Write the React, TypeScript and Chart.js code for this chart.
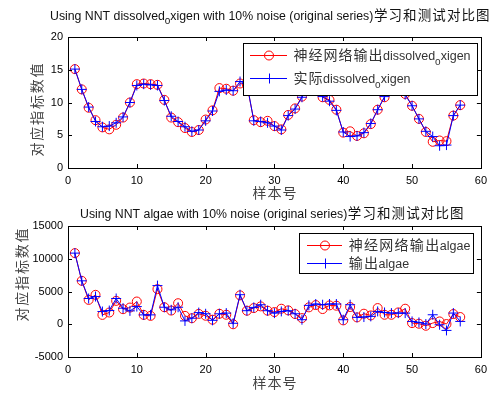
import React, { useEffect, useRef } from 'react';
import { Chart, registerables } from 'chart.js';
Chart.register(...registerables);

// ---------- data ----------
const sampleNo = [
  1, 2, 3, 4, 5, 6, 7, 8, 9, 10, 11, 12, 13, 14, 15, 16, 17, 18, 19, 20,
  21, 22, 23, 24, 25, 26, 27, 28, 29, 30, 31, 32, 33, 34, 35, 36, 37, 38, 39, 40,
  41, 42, 43, 44, 45, 46, 47, 48, 49, 50, 51, 52, 53, 54, 55, 56, 57,
];

const doNetOutput = [
  15.1, 12.0, 9.2, 7.3, 6.2, 5.9, 6.6, 7.7, 10.0, 12.8,
  12.9, 12.8, 12.7, 10.4, 7.7, 7.0, 6.1, 5.5, 5.8, 7.4,
  8.8, 12.2, 12.1, 11.8, 12.9, 12.7, 7.3, 7.0, 7.2, 6.4,
  5.9, 8.1, 9.1, 10.9, 12.5, 12.3, 10.8, 10.4, 8.9, 5.4,
  5.6, 4.9, 5.3, 6.7, 8.9, 10.8, 12.6, 12.4, 11.3, 9.5,
  7.5, 5.5, 4.0, 4.2, 4.1, 8.0, 9.6,
];
const doActual = [
  15.1, 12.0, 9.3, 7.1, 6.3, 6.4, 6.9, 7.8, 10.0, 12.6,
  12.8, 12.7, 12.6, 10.3, 7.9, 7.1, 6.3, 5.6, 5.8, 7.2,
  8.7, 11.7, 11.9, 11.8, 13.2, 12.9, 7.2, 7.1, 6.9, 6.4,
  5.8, 8.0, 9.0, 10.8, 12.6, 12.2, 10.9, 10.2, 8.8, 5.5,
  4.8, 4.9, 5.4, 6.8, 8.9, 10.9, 12.5, 12.4, 11.2, 9.5,
  7.5, 5.6, 4.8, 3.4, 3.5, 8.0, 9.6,
];

const algaeNetOutput = [
  10860, 6630, 3720, 4490, 1430, 1790, 3570, 2300, 2550, 3470,
  1430, 1280, 5360, 2600, 2090, 3210, 1280, 920, 1580, 1300,
  690, 1600, 1450, 0, 4410, 2070, 2470, 2730, 2070, 1860,
  2370, 2120, 1560, 940, 2580, 2930, 2320, 2880, 2830, 590,
  2630, 1050, 1610, 1350, 2470, 1450, 1450, 1810, 2370, 180,
  80, -230, 180, 430, 30, 1560, 1100,
];
const algaeActual = [
  10860, 6630, 3930, 4230, 1940, 2090, 3930, 2450, 2040, 2700,
  1430, 1430, 5900, 2600, 2200, 2600, 510, 920, 1780, 1600,
  600, 1600, 1700, 150, 4510, 2070, 2570, 2980, 2070, 1700,
  1960, 2070, 1600, 690, 2880, 3090, 2980, 3090, 3090, 690,
  2980, 1050, 1100, 1200, 1960, 1800, 1700, 1700, 1700, 430,
  280, 30, 1450, -80, -940, 1710, 430,
];

const xTicks = { min: 0, max: 60, step: 10 };
const doTicks = { min: 0, max: 20, step: 5 };
const algaeTicks = { min: -5000, max: 15000, step: 5000 };

// ---------- drawing helpers ----------
const LAT = '"Liberation Sans", Arial, sans-serif';
const CJK = '"Noto Sans CJK SC", "Noto Sans CJK JP", sans-serif';

type Seg = { t: string; size: number; cjk?: boolean; dy?: number; adv?: number };

function segW(ctx: CanvasRenderingContext2D, s: Seg) {
  if (s.adv) return s.t.length * s.adv;
  ctx.font = `${s.size}px ${s.cjk ? CJK : LAT}`;
  return ctx.measureText(s.t).width;
}

// y is the visual middle line of the text row; text drawn on a shared alphabetic baseline
function drawSegs(
  ctx: CanvasRenderingContext2D,
  segs: Seg[],
  x: number,
  y: number,
  align: 'left' | 'center',
  color: string
) {
  const total = segs.reduce((a, s) => a + segW(ctx, s), 0);
  let cx = align === 'center' ? x - total / 2 : x;
  const base = y + 4.5;
  ctx.fillStyle = color;
  ctx.textBaseline = 'alphabetic';
  for (const s of segs) {
    ctx.font = `${s.size}px ${s.cjk ? CJK : LAT}`;
    const yy = base + (s.dy || 0);
    if (s.adv) {
      ctx.textAlign = 'center';
      for (const ch of s.t) {
        ctx.fillText(ch, cx + s.adv / 2, yy);
        cx += s.adv;
      }
    } else {
      ctx.textAlign = 'left';
      ctx.fillText(s.t, cx, yy);
      cx += ctx.measureText(s.t).width;
    }
  }
}

type LegendItem = { color: string; mark: 'circle' | 'cross'; segs: Seg[] };
type Cfg = {
  title: Seg[];
  titleX: number;
  titleY: number;
  yTitle: string;
  yTitleX: number;
  yTitleY: number;
  xTitleY: number;
  legend: { x1: number; y1: number; x2: number; y2: number; l1: number; l2: number; m: number; tx: number; rows: number[]; items: LegendItem[] };
};

function makePlugin(cfg: Cfg) {
  return {
    id: 'matlabDeco',
    afterDraw(chart: any) {
      const ctx: CanvasRenderingContext2D = chart.ctx;
      const a = chart.chartArea;
      const xs = chart.scales.x;
      const ys = chart.scales.y;
      ctx.save();
      // box
      ctx.strokeStyle = '#000';
      ctx.lineWidth = 1;
      ctx.strokeRect(Math.round(a.left) + 0.5, Math.round(a.top) + 0.5, Math.round(a.right - a.left), Math.round(a.bottom - a.top));
      // inward ticks
      const tl = 4;
      ctx.beginPath();
      for (const t of xs.ticks) {
        const px = Math.round(xs.getPixelForValue(t.value)) + 0.5;
        ctx.moveTo(px, a.bottom);
        ctx.lineTo(px, a.bottom - tl);
        ctx.moveTo(px, a.top);
        ctx.lineTo(px, a.top + tl);
      }
      for (const t of ys.ticks) {
        const py = Math.round(ys.getPixelForValue(t.value)) + 0.5;
        ctx.moveTo(a.left, py);
        ctx.lineTo(a.left + tl, py);
        ctx.moveTo(a.right, py);
        ctx.lineTo(a.right - tl, py);
      }
      ctx.stroke();

      // title
      drawSegs(ctx, cfg.title, cfg.titleX, cfg.titleY, 'left', '#111');
      // x title
      drawSegs(ctx, [{ t: '样本号', size: 14, cjk: true, adv: 15 }], (a.left + a.right) / 2, cfg.xTitleY, 'center', '#444');
      // y title
      ctx.save();
      ctx.translate(cfg.yTitleX, cfg.yTitleY);
      ctx.rotate(-Math.PI / 2);
      drawSegs(ctx, [{ t: cfg.yTitle, size: 14, cjk: true, adv: 15.8 }], 0, 0, 'center', '#444');
      ctx.restore();

      // legend
      const L = cfg.legend;
      ctx.fillStyle = '#fff';
      ctx.fillRect(L.x1, L.y1, L.x2 - L.x1, L.y2 - L.y1);
      ctx.strokeStyle = '#000';
      ctx.lineWidth = 1;
      ctx.strokeRect(L.x1 + 0.5, L.y1 + 0.5, L.x2 - L.x1, L.y2 - L.y1);
      L.items.forEach((it, i) => {
        const ry = L.rows[i] + 0.5;
        ctx.strokeStyle = it.color;
        ctx.lineWidth = 1;
        ctx.beginPath();
        ctx.moveTo(L.l1, ry);
        ctx.lineTo(L.l2, ry);
        ctx.stroke();
        ctx.beginPath();
        if (it.mark === 'circle') {
          ctx.arc(L.m, ry, 4.5, 0, Math.PI * 2);
        } else {
          ctx.moveTo(L.m - 5, ry);
          ctx.lineTo(L.m + 5, ry);
          ctx.moveTo(L.m + 0.5, ry - 5);
          ctx.lineTo(L.m + 0.5, ry + 5);
        }
        ctx.stroke();
        drawSegs(ctx, it.segs, L.tx, L.rows[i], 'left', '#333');
      });
      ctx.restore();
    },
  };
}

function makeChart(
  canvas: HTMLCanvasElement,
  netOut: number[],
  actual: number[],
  yr: { min: number; max: number; step: number },
  padTop: number,
  xAxisH: number,
  cfg: Cfg
) {
  const tickFont = { family: LAT, size: 11 };
  return new Chart(canvas, {
    type: 'line',
    data: {
      datasets: [
        {
          label: 'net',
          data: sampleNo.map((x, i) => ({ x, y: netOut[i] })),
          borderColor: '#ff0000',
          borderWidth: 1,
          pointStyle: 'circle',
          pointRadius: 4.5,
          pointBorderColor: '#ff0000',
          pointBackgroundColor: 'rgba(0,0,0,0)',
          pointBorderWidth: 1,
          tension: 0,
          fill: false,
          order: 1,
        },
        {
          label: 'actual',
          data: sampleNo.map((x, i) => ({ x, y: actual[i] })),
          borderColor: '#0000ff',
          borderWidth: 1,
          pointStyle: 'cross',
          pointRadius: 5,
          pointBorderColor: '#0000ff',
          pointBorderWidth: 1,
          tension: 0,
          fill: false,
          order: 0,
        },
      ],
    },
    options: {
      responsive: false,
      animation: false,
      events: [],
      layout: { padding: { left: 0, right: 12, top: padTop, bottom: 0 } },
      plugins: { legend: { display: false }, title: { display: false }, tooltip: { enabled: false } },
      scales: {
        x: {
          type: 'linear',
          min: xTicks.min,
          max: xTicks.max,
          afterFit: (s: any) => {
            s.height = xAxisH;
          },
          grid: { display: false, drawTicks: false },
          border: { display: false },
          ticks: {
            stepSize: xTicks.step,
            padding: 6,
            color: '#000',
            font: tickFont,
            maxRotation: 0,
            autoSkip: false,
            callback: (v: any) => String(v),
          },
        },
        y: {
          type: 'linear',
          min: yr.min,
          max: yr.max,
          afterFit: (s: any) => {
            s.width = 68;
          },
          grid: { display: false, drawTicks: false },
          border: { display: false },
          ticks: {
            stepSize: yr.step,
            padding: 5,
            color: '#000',
            font: tickFont,
            autoSkip: false,
            callback: (v: any) => String(v),
          },
        },
      },
    } as any,
    plugins: [makePlugin(cfg) as any],
  });
}

const topCfg: Cfg = {
  title: [
    { t: 'Using NNT dissolved', size: 12.3 },
    { t: 'o', size: 10, dy: 4 },
    { t: 'xigen with 10% noise (original series)', size: 12.3 },
    { t: '学习和测试对比图', size: 13.5, cjk: true, adv: 14.6 },
  ],
  titleX: 50,
  titleY: 15,
  yTitle: '对应指标数值',
  yTitleX: 37,
  yTitleY: 110,
  xTitleY: 193,
  legend: {
    x1: 243, y1: 43, x2: 477, y2: 95, l1: 250, l2: 287, m: 269, tx: 293, rows: [55, 78],
    items: [
      {
        color: '#ff0000', mark: 'circle',
        segs: [
          { t: '神经网络输出', size: 14, cjk: true, adv: 15 },
          { t: 'dissolved', size: 12.5 },
          { t: 'o', size: 10, dy: 5 },
          { t: 'xigen', size: 12.5 },
        ],
      },
      {
        color: '#0000ff', mark: 'cross',
        segs: [
          { t: '实际', size: 14, cjk: true, adv: 15 },
          { t: 'dissolved', size: 12.5 },
          { t: 'o', size: 10, dy: 5 },
          { t: 'xigen', size: 12.5 },
        ],
      },
    ],
  },
};

const BOT_OFF = 195;
const botCfg: Cfg = {
  title: [
    { t: 'Using NNT algae with 10% noise (original series)', size: 12.3 },
    { t: '学习和测试对比图', size: 13.5, cjk: true, adv: 14.6 },
  ],
  titleX: 80,
  titleY: 213 - BOT_OFF,
  yTitle: '对应指标数值',
  yTitleX: 22,
  yTitleY: 275 - BOT_OFF,
  xTitleY: 383 - BOT_OFF,
  legend: {
    x1: 299, y1: 233 - BOT_OFF, x2: 473, y2: 273 - BOT_OFF, l1: 307, l2: 342, m: 325, tx: 348,
    rows: [245 - BOT_OFF, 263 - BOT_OFF],
    items: [
      {
        color: '#ff0000', mark: 'circle',
        segs: [
          { t: '神经网络输出', size: 14, cjk: true, adv: 15.3 },
          { t: 'algae', size: 12.5 },
        ],
      },
      {
        color: '#0000ff', mark: 'cross',
        segs: [
          { t: '输出', size: 14, cjk: true, adv: 15.3 },
          { t: 'algae', size: 12.5 },
        ],
      },
    ],
  },
};

export default function App() {
  const topRef = useRef<HTMLCanvasElement>(null);
  const botRef = useRef<HTMLCanvasElement>(null);

  useEffect(() => {
    const c1 = makeChart(topRef.current!, doNetOutput, doActual, doTicks, 37, 205 - 168, topCfg);
    const c2 = makeChart(botRef.current!, algaeNetOutput, algaeActual, algaeTicks, 226 - BOT_OFF, 394 - BOT_OFF - (357 - BOT_OFF), botCfg);
    return () => {
      c1.destroy();
      c2.destroy();
    };
  }, []);

  return (
    <div style={{ position: 'fixed', left: 0, top: 0, width: 493, height: 394, background: '#fff', overflow: 'hidden' }}>
      <canvas ref={topRef} width={493} height={205} style={{ position: 'absolute', left: 0, top: 0, width: 493, height: 205 }} />
      <canvas ref={botRef} width={493} height={394 - BOT_OFF} style={{ position: 'absolute', left: 0, top: BOT_OFF, width: 493, height: 394 - BOT_OFF }} />
    </div>
  );
}
